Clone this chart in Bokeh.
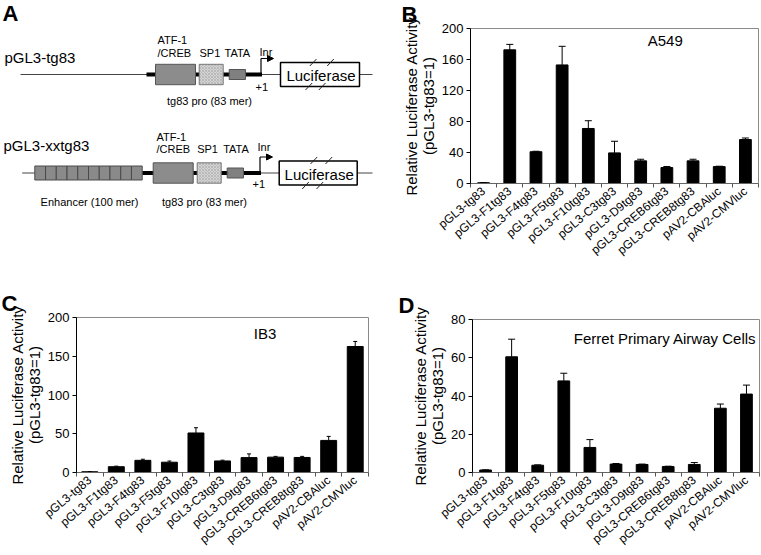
import math
from bokeh.plotting import figure
from bokeh.layouts import column, row
from bokeh.models import (Range1d, FixedTicker, Whisker, TeeHead, ColumnDataSource,
                          Label, Arrow, NormalHead, Title)
from bokeh.embed import file_html
from bokeh.resources import INLINE

FONT = "Liberation Sans"

# ---------------- data ----------------
categories = ["pGL3-tg83", "pGL3-F1tg83", "pGL3-F4tg83", "pGL3-F5tg83", "pGL3-F10tg83",
              "pGL3-C3tg83", "pGL3-D9tg83", "pGL3-CREB6tg83", "pGL3-CREB8tg83",
              "pAV2-CBAluc", "pAV2-CMVluc"]

a549_mean = [1.0, 172.5, 41.0, 153.0, 71.0, 39.5, 29.2, 20.6, 29.2, 21.8, 56.7]
a549_sd = [0.2, 7.0, 0.6, 24.0, 10.0, 15.0, 2.1, 1.3, 2.1, 0.5, 2.0]
a549_ticks = [0, 40, 80, 120, 160, 200]

ib3_mean = [1.0, 7.5, 15.7, 13.3, 51.0, 14.9, 19.2, 19.8, 19.4, 41.4, 162.6]
ib3_sd = [0.2, 0.7, 1.4, 1.5, 6.8, 1.0, 4.8, 1.0, 1.4, 5.2, 6.5]
ib3_ticks = [0, 50, 100, 150, 200]

ferret_mean = [1.3, 60.5, 3.8, 47.9, 13.1, 4.4, 4.2, 3.1, 4.2, 33.6, 41.0]
ferret_sd = [0.1, 9.2, 0.2, 4.0, 4.1, 0.3, 0.2, 0.2, 1.0, 2.2, 4.7]
ferret_ticks = [0, 20, 40, 60, 80]

Y_TITLE = "Relative Luciferase Activity\n(pGL3-tg83=1)"


def no_align(p):
    try:
        p.frame_align = False
    except Exception:
        pass


def bar_panel(mean, sd, ticks, title, title_x, title_y, title_align,
              letter, letter_offset, bar_w, cap, width, height, borders):
    n = len(categories)
    xs = [i + 0.5 for i in range(n)]
    upper = [m + s for m, s in zip(mean, sd)]
    src = ColumnDataSource(dict(x=xs, top=mean, upper=upper))
    bl, br, bt, bb = borders
    p = figure(width=width, height=height, x_range=Range1d(0, n),
               y_range=Range1d(ticks[0], ticks[-1]), output_backend="svg",
               toolbar_location=None, title=None,
               min_border_left=bl, min_border_right=br,
               min_border_top=bt, min_border_bottom=bb)
    no_align(p)
    p.title = Title(text=letter, align="left", offset=letter_offset, vertical_align="top",
                    standoff=0, text_font=FONT, text_font_size="22px",
                    text_font_style="bold", text_color="black")
    p.vbar(x="x", top="top", bottom=0, width=bar_w, source=src,
           fill_color="black", line_color="black")
    p.add_layout(Whisker(source=src, base="x", lower="top", upper="upper",
                         dimension="height", line_color="black", line_width=1,
                         upper_head=TeeHead(size=cap, line_color="black", line_width=1),
                         lower_head=None))
    p.xgrid.visible = False
    p.ygrid.visible = False
    p.outline_line_color = "#8a8a8a"
    p.background_fill_color = "white"
    p.border_fill_color = "white"

    xa = p.xaxis[0]
    xa.ticker = FixedTicker(ticks=xs, minor_ticks=list(range(n + 1)))
    xa.major_label_overrides = {x: c for x, c in zip(xs, categories)}
    xa.major_tick_out = 0
    xa.major_tick_in = 0
    xa.minor_tick_out = 4
    xa.minor_tick_in = 0
    xa.minor_tick_line_color = "#555555"
    xa.axis_line_color = "#666666"
    xa.major_label_orientation = 0.70
    xa.major_label_standoff = 2
    xa.major_label_text_font = FONT
    xa.major_label_text_font_size = "12px"
    xa.major_label_text_color = "black"

    ya = p.yaxis[0]
    ya.ticker = FixedTicker(ticks=ticks)
    ya.major_tick_out = 4
    ya.major_tick_in = 0
    ya.minor_tick_out = 0
    ya.minor_tick_in = 0
    ya.axis_line_color = "black"
    ya.major_tick_line_color = "black"
    ya.major_label_standoff = 3
    ya.major_label_text_font = FONT
    ya.major_label_text_font_size = "13px"
    ya.major_label_text_color = "black"
    ya.axis_label = Y_TITLE
    ya.axis_label_text_font = FONT
    ya.axis_label_text_font_size = "15px"
    ya.axis_label_text_font_style = "normal"
    ya.axis_label_text_color = "black"
    ya.axis_label_text_line_height = 1.0
    ya.axis_label_standoff = 2

    p.add_layout(Label(x=title_x, y=title_y, text=title, text_font=FONT,
                       text_font_size="15px", text_align=title_align,
                       text_baseline="middle", text_color="black"))
    return p


# ---------------- panel A (schematic, drawn in reference pixel units) ----------------
pa = figure(width=390, height=290, x_range=Range1d(0, 390), y_range=Range1d(290, 0),
            x_axis_location=None, y_axis_location=None, min_border=0,
            output_backend="svg", toolbar_location=None, title=None)
no_align(pa)
pa.grid.visible = False
pa.outline_line_color = None


def txt(x, y, t, size="11px", align="left", bold=False):
    pa.add_layout(Label(x=x, y=y, text=t, text_font=FONT, text_font_size=size,
                        text_align=align, text_baseline="middle", text_color="black",
                        text_font_style="bold" if bold else "normal"))


def construct(y, x0, x_thick0, atf_l, sp_l, tata_l, inr_x, luc_l, luc_r, enh=None,
              slashes_top=(), slashes_bot=()):
    pa.segment(x0=x0, y0=y, x1=372, y1=y, line_color="#444444", line_width=1)
    pa.segment(x0=x_thick0, y0=y, x1=inr_x + 1, y1=y, line_color="black", line_width=4)
    if enh is not None:
        el, er = enh
        w = (er - el) / 10.0
        pa.quad(left=[el + i * w for i in range(10)], right=[el + (i + 1) * w for i in range(10)],
                top=y - 7, bottom=y + 7, fill_color="#8a8a8a", line_color="#4a4a4a", line_width=1)
    pa.quad(left=atf_l, right=atf_l + 40, top=y - 10.2, bottom=y + 10.2,
            fill_color="#8c8c8c", line_color="#555555", line_width=1)
    pa.quad(left=sp_l, right=sp_l + 24, top=y - 10.2, bottom=y + 10.2,
            fill_color="#d4d4d4", line_color="#777777", line_width=1,
            hatch_pattern="x", hatch_color="#a8a8a8", hatch_scale=3, hatch_weight=0.6)
    pa.quad(left=tata_l, right=tata_l + 16.3, top=y - 5, bottom=y + 5,
            fill_color="#808080", line_color="#555555", line_width=1)
    pa.segment(x0=inr_x, y0=y, x1=inr_x, y1=y - 16, line_color="black", line_width=1.2)
    pa.add_layout(Arrow(x_start=inr_x, y_start=y - 16, x_end=inr_x + 12.5, y_end=y - 16,
                        line_color="black", line_width=1.2,
                        end=NormalHead(size=6, fill_color="black", line_color="black")))
    pa.quad(left=luc_l, right=luc_r, top=y - 12, bottom=y + 12,
            fill_color="white", line_color="black", line_width=1.5)
    for (xa0, ya0, xa1, ya1) in list(slashes_top) + list(slashes_bot):
        pa.segment(x0=xa0, y0=ya0, x1=xa1, y1=ya1, line_color="#222222", line_width=1)
    txt((luc_l + luc_r) / 2 + 1, y + 1, "Luciferase", size="15px", align="center")


# row 1
construct(74, 20, 146, 155, 198.7, 228.7, 260.5, 280, 359,
          slashes_top=[(309.3, 65.5, 316, 58.5), (326.7, 65.5, 333.3, 58.5)],
          slashes_bot=[(305, 89.5, 311.7, 82.5), (318.3, 89.5, 325, 82.5)])
txt(4, 57, "pGL3-tg83", size="15px")
txt(157, 39, "ATF-1")
txt(157, 52, "/CREB")
txt(199, 52, "SP1")
txt(224, 52, "TATA")
txt(259, 51, "Inr")
txt(255, 86, "+1")
txt(209, 100, "tg83 pro (83 mer)", align="center")

# row 2
construct(172.5, 21.7, 141.7, 152.7, 196.7, 226.7, 259.5, 278.7, 356.7, enh=(34.3, 141.7),
          slashes_top=[(310, 163.5, 316.7, 156.5), (325, 163.5, 331.7, 156.5)],
          slashes_bot=[(301.7, 188.5, 308.3, 181.5), (316, 188.5, 322.7, 181.5)])
txt(3, 145, "pGL3-xxtg83", size="15px")
txt(156, 136, "ATF-1")
txt(156, 148.7, "/CREB")
txt(196.7, 148.7, "SP1")
txt(222.7, 148.7, "TATA")
txt(257, 146, "Inr")
txt(252, 183.5, "+1")
txt(89, 201, "Enhancer (100 mer)", align="center")
txt(204, 201, "tg83 pro (83 mer)", align="center")
pa.add_layout(Label(x=2, y=0, text="A", text_font=FONT, text_font_size="22px",
                    text_font_style="bold", text_align="left", text_baseline="top",
                    text_color="black"))

# ---------------- panels B, C, D ----------------
pb = bar_panel(a549_mean, a549_sd, a549_ticks, "A549", 7.44, 184.5, "center",
               "B", -69, 0.45, 7, 370, 290, (80, 2, 28, 107))
pc = bar_panel(ib3_mean, ib3_sd, ib3_ticks, "IB3", 7.1, 180, "center",
               "C", -75, 0.6, 4, 390, 264, (76, 22, 27, 79))
pd_ = bar_panel(ferret_mean, ferret_sd, ferret_ticks, "Ferret Primary Airway Cells",
                10.88, 69.9, "right", "D", -74, 0.45, 7, 370, 264, (82, 1, 29, 80))

layout = column(row(pa, pb), row(pc, pd_))
open("out.html", "w").write(file_html(layout, INLINE))
